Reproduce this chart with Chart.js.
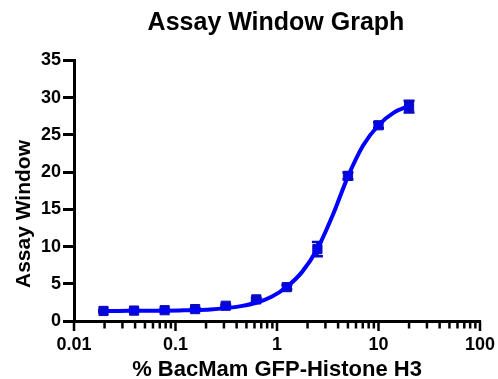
<!DOCTYPE html>
<html><head><meta charset="utf-8">
<script src="https://cdn.jsdelivr.net/npm/chart.js@4.4.0/dist/chart.umd.min.js"></script>
<style>html,body{margin:0;padding:0;background:#fff}#wrap{width:498px;height:379px;position:relative}</style>
</head><body><div id="wrap"><canvas id="c" width="498" height="379"></canvas></div>
<script>
// measured data (% BacMam GFP-Histone H3 vs Assay Window)
const concentrations = [0.01953125, 0.0390625, 0.078125, 0.15625, 0.3125, 0.625, 1.25, 2.5, 5, 10, 20];
const assayWindow    = [1.35, 1.4, 1.45, 1.6, 2.05, 2.9, 4.55, 9.65, 19.5, 26.3, 28.8];
const errorBars      = [0.1, 0.1, 0.1, 0.1, 0.15, 0.2, 0.3, 0.95, 0.45, 0.4, 0.8];
// fitted curve
const fitX = [0.01953, 0.02762, 0.03906, 0.05524, 0.07813, 0.1105, 0.1563, 0.2210, 0.3125, 0.4419, 0.625, 0.8839, 1.25, 1.768, 2.5, 3.536, 5, 7.071, 10, 14.14, 20];
const fitY = [1.36, 1.36, 1.37, 1.38, 1.39, 1.42, 1.46, 1.55, 1.73, 2.0, 2.45, 3.25, 4.6, 6.6, 9.7, 14.2, 19.4, 23.6, 26.3, 28.0, 28.9];
// axes
const xMajorTicks = [0.01, 0.1, 1, 10, 100];
const xTickLabels = ['0.01', '0.1', '1', '10', '100'];
const xMinorMultipliers = [2, 3, 4, 5, 6, 7, 8, 9];
const yTicks = [0, 5, 10, 15, 20, 25, 30, 35];
const chartTitle = 'Assay Window Graph';
const xTitle = '% BacMam GFP-Histone H3';
const yTitle = 'Assay Window';

const FONT = "'Liberation Sans', Arial, sans-serif";
const BLUE = '#0000FF';
const MARK = '#0808C8';

function majorIndex(v) { return xMajorTicks.findIndex(m => Math.abs(m - v) / m < 1e-6); }

const titlePlugin = {
  id: 'titles',
  afterDraw(chart) {
    const ctx = chart.ctx, a = chart.chartArea;
    ctx.save();
    ctx.fillStyle = '#000';
    ctx.textAlign = 'center';
    ctx.textBaseline = 'middle';
    ctx.font = "bold 25px " + FONT;
    ctx.fillText(chartTitle, (a.left + a.right) / 2 - 1, 23.5);
    // y-axis title, placed as in the original (lower than the axis centre)
    ctx.translate(24.5, a.bottom - 107);
    ctx.rotate(-Math.PI / 2);
    ctx.font = "bold 21px " + FONT;
    ctx.fillText(yTitle, 0, 0);
    ctx.restore();
  }
};

// log-axis tick marks: long at decades, short for minor ticks
const xTickMarks = {
  id: 'xTickMarks',
  afterDraw(chart) {
    const ctx = chart.ctx, xs = chart.scales.x, base = chart.chartArea.bottom;
    ctx.save();
    ctx.strokeStyle = '#000';
    ctx.lineWidth = 2.5;
    xs.ticks.forEach(t => {
      const px = xs.getPixelForValue(t.value);
      const len = majorIndex(t.value) >= 0 ? 10 : 7.5;
      ctx.beginPath();
      ctx.moveTo(px, base);
      ctx.lineTo(px, base + len);
      ctx.stroke();
    });
    ctx.restore();
  }
};

const errorBarPlugin = {
  id: 'errorBars',
  beforeDatasetDraw(chart, args) {
    if (args.index !== 1) return;
    const ctx = chart.ctx, xs = chart.scales.x, ys = chart.scales.y;
    ctx.save();
    ctx.strokeStyle = MARK;
    ctx.lineWidth = 2.5;
    concentrations.forEach((c, i) => {
      const px = xs.getPixelForValue(c);
      const top = ys.getPixelForValue(assayWindow[i] + errorBars[i]);
      const bot = ys.getPixelForValue(assayWindow[i] - errorBars[i]);
      ctx.beginPath();
      ctx.moveTo(px, top); ctx.lineTo(px, bot);
      ctx.moveTo(px - 5.5, top); ctx.lineTo(px + 5.5, top);
      ctx.moveTo(px - 5.5, bot); ctx.lineTo(px + 5.5, bot);
      ctx.stroke();
    });
    ctx.restore();
  }
};

new Chart(document.getElementById('c'), {
  type: 'scatter',
  data: {
    datasets: [
      {
        label: 'fit',
        data: fitX.map((x, i) => ({ x, y: fitY[i] })),
        showLine: true,
        borderColor: BLUE,
        borderWidth: 4,
        pointRadius: 0,
        cubicInterpolationMode: 'monotone',
        fill: false
      },
      {
        label: 'data',
        data: concentrations.map((x, i) => ({ x, y: assayWindow[i] })),
        showLine: false,
        pointStyle: 'rect',
        pointRadius: 6.5,
        backgroundColor: MARK,
        borderColor: MARK,
        borderWidth: 1
      }
    ]
  },
  options: {
    responsive: false,
    animation: false,
    devicePixelRatio: 1,
    layout: { padding: { left: 7, right: 18, top: 60.5, bottom: 0 } },
    plugins: { legend: { display: false }, tooltip: { enabled: false }, title: { display: false } },
    scales: {
      x: {
        type: 'logarithmic',
        min: 0.01, max: 100,
        afterBuildTicks(scale) {
          const t = [];
          xMajorTicks.forEach((m, k) => {
            t.push({ value: m });
            if (k < xMajorTicks.length - 1) xMinorMultipliers.forEach(mm => t.push({ value: m * mm }));
          });
          scale.ticks = t;
        },
        afterFit(scale) { scale.height = 58; scale.paddingLeft = 0; scale.paddingRight = 0; },
        ticks: {
          autoSkip: false, maxRotation: 0,
          color: '#000',
          font: { family: FONT, size: 18, weight: 'bold', lineHeight: 1.0 },
          padding: 15.5,
          callback(v) { const k = majorIndex(v); return k >= 0 ? xTickLabels[k] : ''; }
        },
        grid: { display: false, drawTicks: false },
        border: { display: true, color: '#000', width: 3 },
        title: { display: true, text: xTitle, color: '#000', font: { family: FONT, size: 22, weight: 'bold', lineHeight: 0.8 }, padding: { top: 0, bottom: 0 } }
      },
      y: {
        min: 0, max: 35,
        afterBuildTicks(scale) { scale.ticks = yTicks.map(v => ({ value: v })); },
        afterFit(scale) { scale.width = 67; scale.paddingTop = 0; scale.paddingBottom = 0; },
        ticks: { color: '#000', font: { family: FONT, size: 18, weight: 'bold' }, padding: 2 },
        grid: { drawOnChartArea: false, drawTicks: true, tickLength: 11, tickColor: '#000', tickWidth: 3 },
        border: { display: true, color: '#000', width: 3 },
        title: { display: false, text: yTitle }
      }
    }
  },
  plugins: [titlePlugin, xTickMarks, errorBarPlugin]
});
</script>
</body></html>
